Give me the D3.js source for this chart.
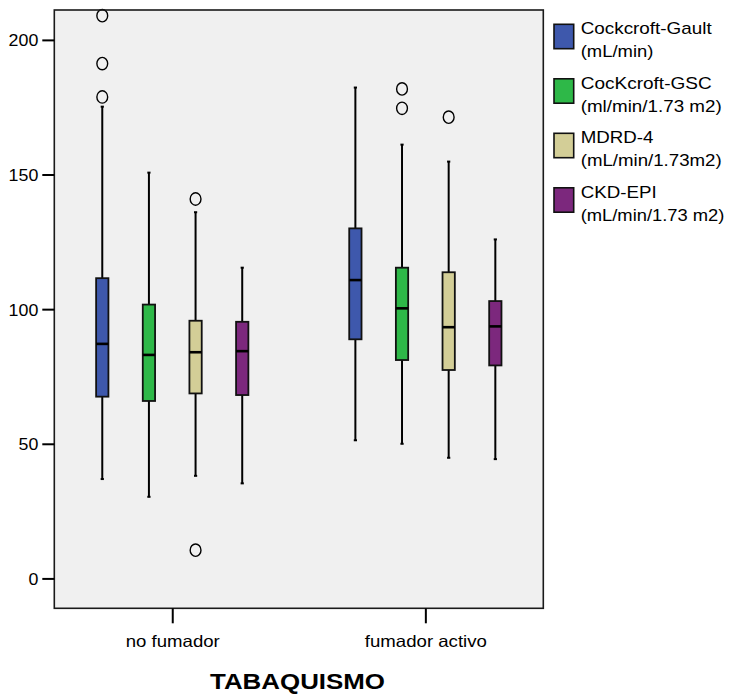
<!DOCTYPE html>
<html><head><meta charset="utf-8">
<script src="https://cdn.jsdelivr.net/npm/d3@7"></script>
<style>
html,body{margin:0;padding:0;background:#fff;}
text{font-family:"Liberation Sans",Arial,sans-serif;fill:#000;}
</style></head>
<body>
<svg id="chart" width="729" height="694"></svg>
<script>
const groups = ["no fumador", "fumador activo"];
const series = ["Cockcroft-Gault", "CocKcroft-GSC", "MDRD-4", "CKD-EPI"];
const seriesUnits = ["(mL/min)", "(ml/min/1.73 m2)", "(mL/min/1.73m2)", "(mL/min/1.73 m2)"];
const colors = ["#3E58AC", "#2EB848", "#D3CE97", "#7C287D"];
const yTicks = [0, 50, 100, 150, 200];
// per group: [series0, series1, series2, series3]
const whiskerLow = [[36.9, 30.3, 38.1, 35.3], [51.3, 50.0, 44.8, 44.3]];
const q1 =         [[67.5, 65.9, 68.7, 68.1], [88.8, 81.1, 77.4, 79.1]];
const median =     [[87.1, 83.0, 84.0, 84.4], [110.8, 100.3, 93.3, 93.6]];
const q3 =         [[111.5, 101.7, 95.7, 95.3], [130.0, 115.4, 113.7, 103.0]];
const whiskerHigh =[[175.2, 150.7, 136.0, 115.4], [182.3, 161.1, 154.8, 125.9]];
const outliers =   [[[178.8, 191.2, 209.0], [], [10.5, 140.9], []],
                    [[], [174.6, 181.8], [171.3], []]];

const svg = d3.select("#chart");
const L = 54.3, R = 543.3, T = 10, B = 608.3;

const y = d3.scaleLinear().domain([-11.1, 211.1]).range([B, T]);
const x = d3.scalePoint().domain(groups).range([L, R]).padding(0.466);
const xs = d3.scaleBand().domain(series).range([-93.3, 93.3]).padding(0);
const boxW = 12.3;

// plot background
svg.append("rect").attr("x", L).attr("y", T).attr("width", R - L).attr("height", B - T)
  .attr("fill", "#f0f0f0");

// boxes
const boxes = [];
groups.forEach((g, gi) => series.forEach((s, si) => boxes.push({g, gi, s, si})));
const bg = svg.append("g");
boxes.forEach(d => {
  const cx = x(d.g) + xs(d.s) + xs.bandwidth() / 2;
  const grp = bg.append("g");
  const lo = whiskerLow[d.gi][d.si], hi = whiskerHigh[d.gi][d.si];
  const a = q1[d.gi][d.si], b = q3[d.gi][d.si], m = median[d.gi][d.si];
  grp.append("line").attr("x1", cx).attr("x2", cx).attr("y1", y(hi)).attr("y2", y(b))
    .attr("stroke", "#000").attr("stroke-width", 2);
  grp.append("line").attr("x1", cx).attr("x2", cx).attr("y1", y(a)).attr("y2", y(lo))
    .attr("stroke", "#000").attr("stroke-width", 2);
  [hi, lo].forEach(v => grp.append("line").attr("x1", cx - 1.6).attr("x2", cx + 1.6)
    .attr("y1", y(v)).attr("y2", y(v)).attr("stroke", "#000").attr("stroke-width", 2));
  grp.append("rect").attr("x", cx - boxW / 2).attr("width", boxW)
    .attr("y", y(b)).attr("height", y(a) - y(b))
    .attr("fill", colors[d.si]).attr("stroke", "#111").attr("stroke-width", 1.8);
  grp.append("line").attr("x1", cx - boxW / 2).attr("x2", cx + boxW / 2)
    .attr("y1", y(m)).attr("y2", y(m)).attr("stroke", "#000").attr("stroke-width", 2.6);
  outliers[d.gi][d.si].forEach(v => grp.append("ellipse").attr("cx", cx).attr("cy", y(v))
    .attr("rx", 5.4).attr("ry", 6.2).attr("fill", "none").attr("stroke", "#000").attr("stroke-width", 1.4));
});

// frame
svg.append("rect").attr("x", L).attr("y", T).attr("width", R - L).attr("height", B - T)
  .attr("fill", "none").attr("stroke", "#1a1a1a").attr("stroke-width", 1.6);

// y axis
const yAxis = d3.axisLeft(y).tickValues(yTicks).tickSize(12).tickPadding(4).tickFormat(d3.format("d"));
const ya = svg.append("g").attr("transform", `translate(${L},0)`).call(yAxis);
ya.select(".domain").remove();
ya.selectAll(".tick line").attr("stroke", "#000").attr("stroke-width", 2);
ya.selectAll(".tick text").attr("font-size", 16.5).attr("font-family", "Liberation Sans, Arial, sans-serif")
  .attr("fill", "#000").attr("dy", "0.36em")
  .attr("textLength", d => String(d).length * 9.9).attr("lengthAdjust", "spacingAndGlyphs");

// x axis
const xAxis = d3.axisBottom(x).tickSize(15).tickPadding(12);
const xa = svg.append("g").attr("transform", `translate(0,${B})`).call(xAxis);
xa.select(".domain").remove();
xa.selectAll(".tick line").attr("stroke", "#000").attr("stroke-width", 2);
const xLabelW = {"no fumador": 94, "fumador activo": 122};
xa.selectAll(".tick text").attr("font-size", 16.5).attr("font-family", "Liberation Sans, Arial, sans-serif")
  .attr("fill", "#000").attr("dy", "0.71em")
  .attr("textLength", d => xLabelW[d]).attr("lengthAdjust", "spacingAndGlyphs");

// axis title
svg.append("text").attr("x", 297.5).attr("y", 688.5).attr("text-anchor", "middle")
  .attr("font-size", 22.5).attr("font-weight", "bold").text("TABAQUISMO")
  .attr("textLength", 175).attr("lengthAdjust", "spacingAndGlyphs");

// legend
const legW1 = [131, 131, 72.7, 76];
const legW2 = [72.7, 141, 141, 143.7];
const lg = svg.append("g");
series.forEach((s, i) => {
  const top = 24.3 + i * 54.5;
  lg.append("rect").attr("x", 554).attr("y", top).attr("width", 19.7).attr("height", 24.4)
    .attr("fill", colors[i]).attr("stroke", "#111").attr("stroke-width", 1.6);
  lg.append("text").attr("x", 580.7).attr("y", top + 10).attr("font-size", 17).text(s)
    .attr("textLength", legW1[i]).attr("lengthAdjust", "spacingAndGlyphs");
  lg.append("text").attr("x", 580.7).attr("y", top + 33).attr("font-size", 17).text(seriesUnits[i])
    .attr("textLength", legW2[i]).attr("lengthAdjust", "spacingAndGlyphs");
});
</script>
</body></html>
